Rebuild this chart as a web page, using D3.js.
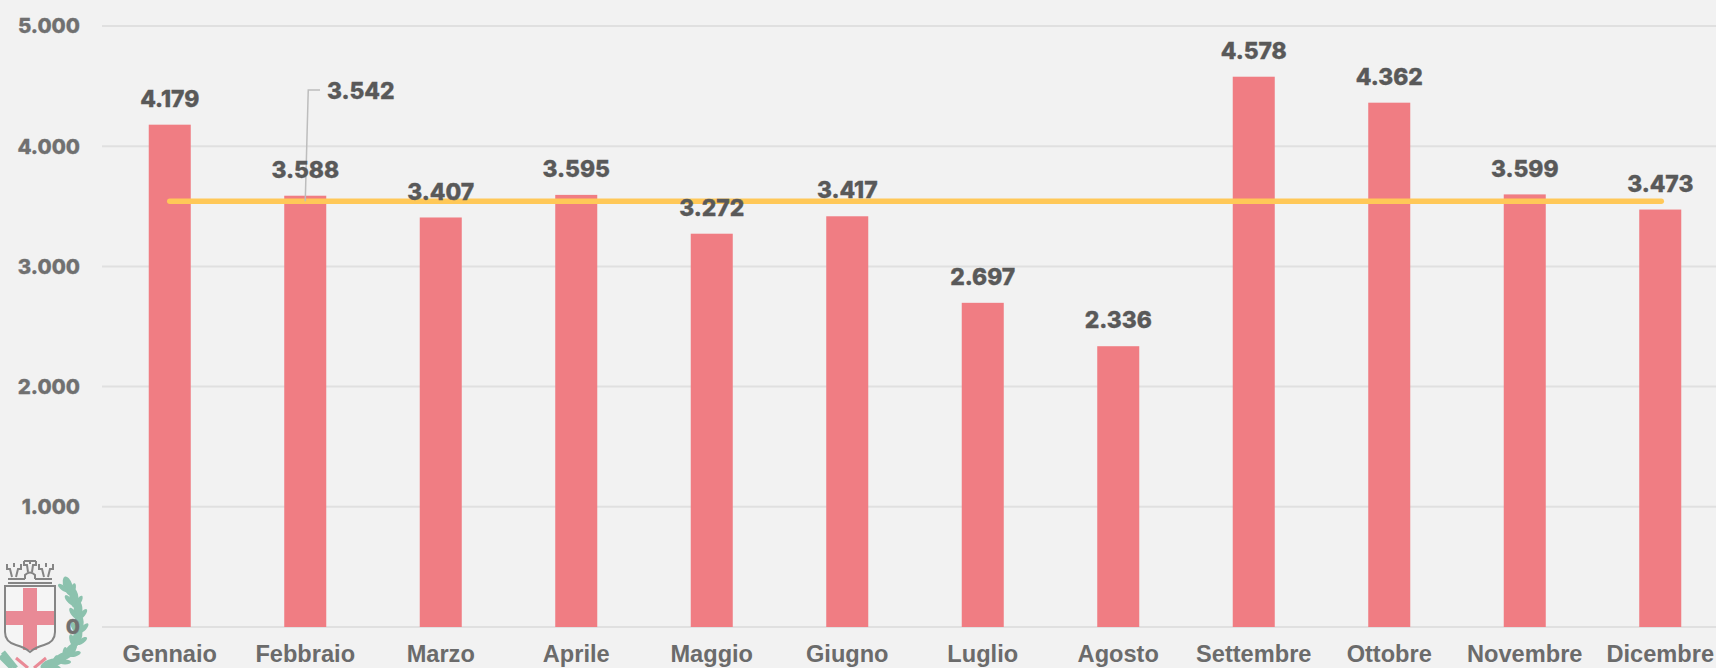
<!DOCTYPE html>
<html><head><meta charset="utf-8">
<script src="https://cdn.jsdelivr.net/npm/d3@7/dist/d3.min.js"></script>
<style>html,body{margin:0;padding:0;background:#f2f2f2;overflow:hidden}svg{display:block}</style>
</head><body><svg id="c" width="1716" height="668"></svg>
<script>
const months=["Gennaio","Febbraio","Marzo","Aprile","Maggio","Giugno","Luglio","Agosto","Settembre","Ottobre","Novembre","Dicembre"];
const values=[4179,3588,3407,3595,3272,3417,2697,2336,4578,4362,3599,3473];
const averageValue=3542;
const yTicks=[0,1000,2000,3000,4000,5000];
const W=1716,H=668,L=102,R=1728,T=26,B=627;
const svg=d3.select("#c");
const x=d3.scaleBand().domain(months).range([L,R]).paddingInner(0.69).paddingOuter(0.345);
const y=d3.scaleLinear().domain([0,5000]).range([B,T]);
const fmt=v=>d3.format(",")(v).replace(/,/g,".");
const numFont="Inter, 'Open Sans', sans-serif";

// emblem (decorative)
const e=svg.append("g");
const wreath=e.append("g").attr("fill","#8cc2ae");
const leaves=[[68,586,-18],[74,598,-5],[78,611,3],[79,625,8],[77,638,20],[70,651,38],[60,659,55],[50,664,70]];
leaves.forEach(([a,b,r])=>{
  wreath.append("ellipse").attr("cx",a).attr("cy",b).attr("rx",4.5).attr("ry",10).attr("transform",`rotate(${r} ${a} ${b})`);
  wreath.append("ellipse").attr("cx",a+5).attr("cy",b+3).attr("rx",2.5).attr("ry",6).attr("transform",`rotate(${r+35} ${a+5} ${b+3})`);
  wreath.append("ellipse").attr("cx",a-5).attr("cy",b+2).attr("rx",2.5).attr("ry",6).attr("transform",`rotate(${r-35} ${a-5} ${b+2})`);
});
e.append("path").attr("d","M0,656 L12,668 M3,652 L16,668").attr("stroke","#8cc2ae").attr("stroke-width",5);
e.append("path").attr("d","M16,658 L28,668 M46,658 L34,668").attr("stroke","#e98a96").attr("stroke-width",3);
const shieldD="M5,586 H55 V632 Q55,642 44,645 Q36,647 30,652 Q24,647 16,645 Q5,642 5,632 Z";
e.append("path").attr("d",shieldD).attr("fill","#f5f5f5");
e.append("rect").attr("x",23).attr("y",588).attr("width",14).attr("height",62).attr("fill","#e98a96");
e.append("rect").attr("x",6).attr("y",611).attr("width",48).attr("height",14).attr("fill","#e98a96");
e.append("path").attr("d",shieldD).attr("fill","none").attr("stroke","#858585").attr("stroke-width",2);
const crown=e.append("g").attr("fill","none").attr("stroke","#858585").attr("stroke-width",2);
crown.append("path").attr("d","M8,583 H52 M8,579 H25 M35,579 H52 M25,579 V575 Q30,570 35,575 V579");
crown.append("path").attr("d","M7,564 V569 H10 L12,577 M14,563 V567 M21,564 V569 H18 L16,577");
crown.append("path").attr("d","M24,561 V565 H27 L28,572 M30,560 V564 M36,561 V565 H33 L32,572 M24,561 H36");
crown.append("path").attr("d","M53,564 V569 H50 L48,577 M46,563 V567 M39,564 V569 H42 L44,577");

// grid
svg.append("g").selectAll("line").data(yTicks).join("line")
  .attr("x1",L).attr("x2",W).attr("y1",d=>y(d)).attr("y2",d=>y(d))
  .attr("stroke","#e0e0e0").attr("stroke-width",2);

// y tick labels
svg.append("g").selectAll("text").data(yTicks).join("text")
  .attr("x",80).attr("y",d=>y(d)).attr("dy","0.36em").attr("text-anchor","end")
  .attr("font-family",numFont).attr("font-weight",800).attr("font-size",20.5).attr("fill","#707070")
  .attr("stroke","#707070").attr("stroke-width",0.3)
  .text(fmt);

// bars
svg.append("g").selectAll("rect").data(values).join("rect")
  .attr("x",(d,i)=>x(months[i])).attr("width",x.bandwidth())
  .attr("y",d=>y(d)).attr("height",d=>B-y(d)).attr("fill","#f07d83");

// category labels
svg.append("g").selectAll("text").data(months).join("text")
  .attr("x",d=>x(d)+x.bandwidth()/2).attr("y",654).attr("dy","0.36em").attr("text-anchor","middle")
  .attr("font-family","'Liberation Sans',Arial,sans-serif").attr("font-weight",700).attr("font-size",23.6).attr("fill","#6b6b6b")
  .text(d=>d);

// average line
const line=d3.line().x(d=>d[0]).y(d=>d[1]);
const cx=m=>x(m)+x.bandwidth()/2;
svg.append("path").attr("d",line([[cx(months[0]),y(averageValue)],[cx(months[11])+1,y(averageValue)]]))
  .attr("stroke","#ffc858").attr("stroke-width",5.5).attr("stroke-linecap","round").attr("fill","none");

// leader
svg.append("path").attr("d",line([[cx(months[1]),y(averageValue)],[cx(months[1])+3,90],[320,90]]))
  .attr("fill","none").attr("stroke","#bdbdbd").attr("stroke-width",1.5);

// value labels
svg.append("g").selectAll("text").data(values).join("text")
  .attr("x",(d,i)=>cx(months[i])).attr("y",d=>y(d)-26).attr("dy","0.36em").attr("text-anchor","middle")
  .attr("font-family",numFont).attr("font-weight",800).attr("font-size",22.8).attr("fill","#595959")
  .attr("stroke","#595959").attr("stroke-width",0.4)
  .text(fmt);
svg.append("text").attr("x",327).attr("y",91).attr("dy","0.36em")
  .attr("font-family",numFont).attr("font-weight",800).attr("font-size",22.8).attr("fill","#595959")
  .attr("stroke","#595959").attr("stroke-width",0.4)
  .text(fmt(averageValue));
</script></body></html>
